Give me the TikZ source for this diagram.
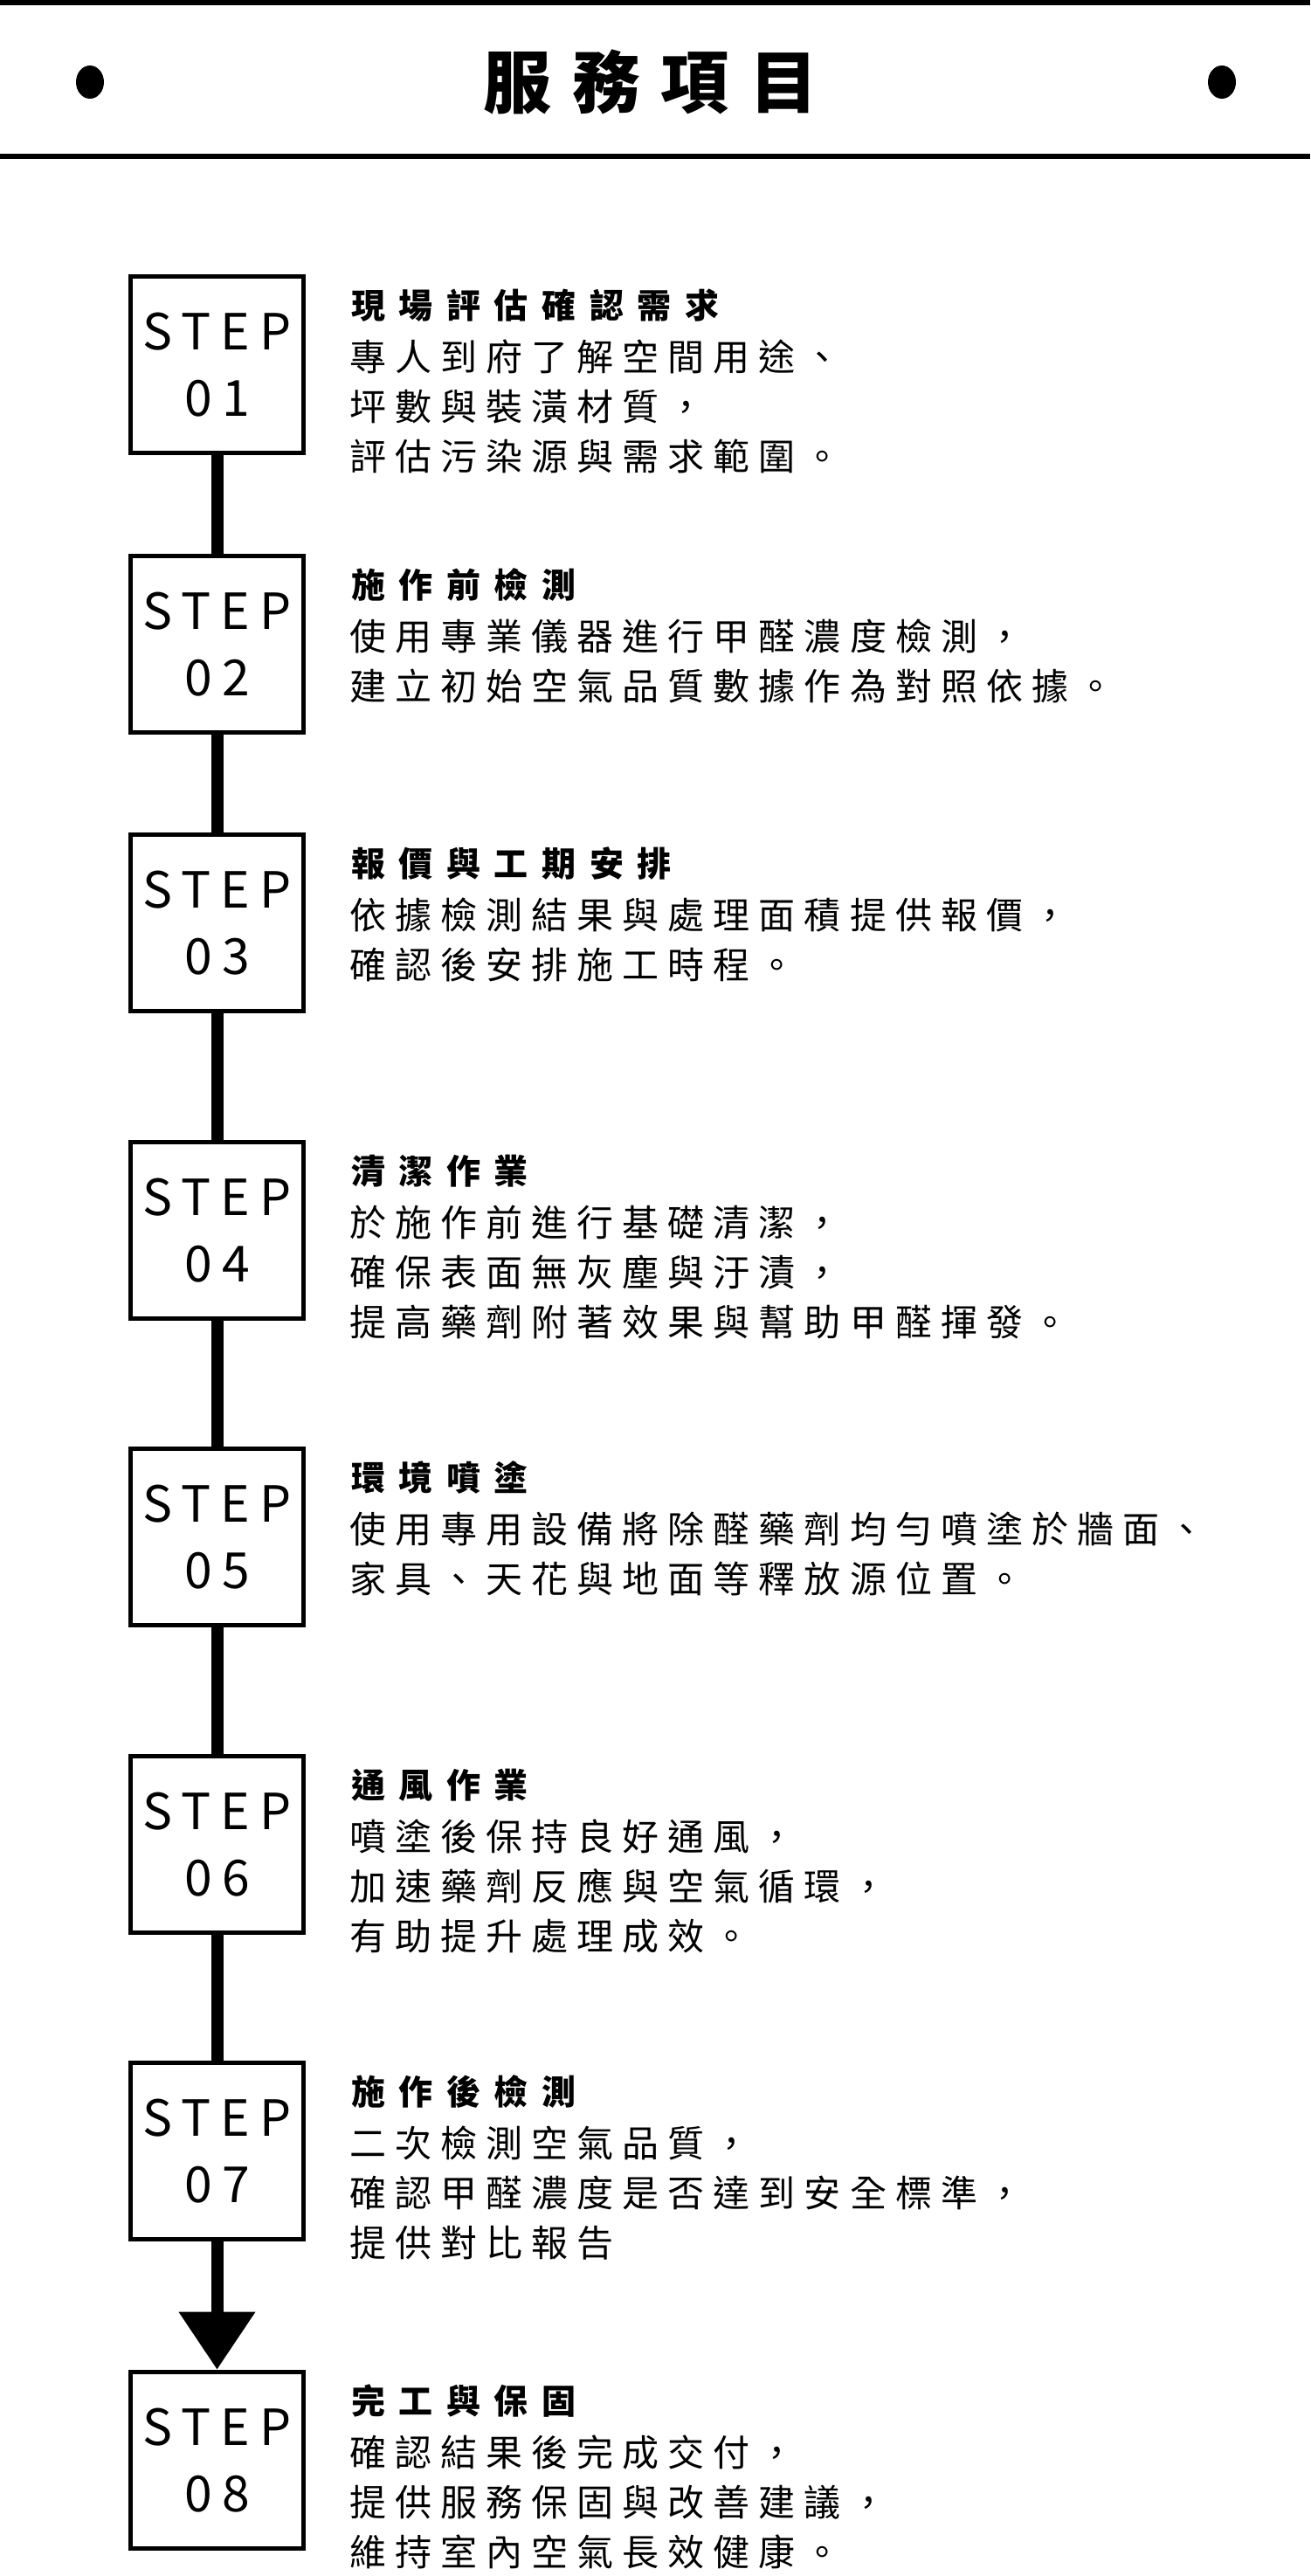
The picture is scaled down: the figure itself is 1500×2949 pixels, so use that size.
\documentclass[tikz,border=0pt]{standalone}
\usepackage{fontspec}
\setmainfont{Noto Sans CJK TC}
\usetikzlibrary{arrows.meta}
\tikzset{
 box/.style={draw,line width=5.6pt,fill=white,minimum width=198pt,minimum height=202pt,inner sep=0pt,align=center,
   font=\fontsize{57}{76}\selectfont\addfontfeatures{LetterSpace=20}},
 ttl/.style={anchor=base west,inner sep=0pt,font=\bfseries\fontsize{39}{40}\selectfont\addfontfeatures{LetterSpace=40}},
 bdy/.style={anchor=base west,inner sep=0pt,font=\fontsize{42}{45}\selectfont\addfontfeatures{LetterSpace=24}},
 conn/.style={line width=14pt},
}
\begin{document}
\begin{tikzpicture}[x=1pt,y=-1pt]
\useasboundingbox (0,0) rectangle (1500,2949);
\fill[white] (0,0) rectangle (1500,2949);
\fill (0,0) rectangle (1500,6);
\fill (0,176) rectangle (1500,182);
\fill (103,94) ellipse [x radius=16,y radius=19];
\fill (1399,94) ellipse [x radius=16,y radius=19];
\node[inner sep=0pt,font=\bfseries\fontsize{78}{80}\selectfont\addfontfeatures{LetterSpace=30}] (title) at (745,94) {服務項目};
% steps
\foreach \i/\t in {1/314,2/634,3/953,4/1305,5/1656,6/2008,7/2359,8/2713}{
 \node[box] (s\i) at (248.5,\t+103.5) {STEP\\0\i};
}
\foreach \a/\b in {1/2,2/3,3/4,4/5,5/6,6/7}{
 \draw[conn] (s\a.south) -- (s\b.north);
}
\draw[conn,-{Triangle[width=84pt,length=66pt]}] (s7.south) -- (s8.north);
\newcommand\stepx[5]{%
 \node[ttl] (t#1) at (402,#2+50) {#3};
 \node[bdy] (b#1a) at (400,#2+110) {#4};
 #5}
\stepx{1}{314}{現場評估確認需求}{專人到府了解空間用途、}{\node[bdy] (b1b) at (400,314+167) {坪數與裝潢材質，};\node[bdy] (b1c) at (400,314+224) {評估污染源與需求範圍。};}
\stepx{2}{634}{施作前檢測}{使用專業儀器進行甲醛濃度檢測，}{\node[bdy] (b2b) at (400,634+167) {建立初始空氣品質數據作為對照依據。};}
\stepx{3}{953}{報價與工期安排}{依據檢測結果與處理面積提供報價，}{\node[bdy] (b3b) at (400,953+167) {確認後安排施工時程。};}
\stepx{4}{1305}{清潔作業}{於施作前進行基礎清潔，}{\node[bdy] (b4b) at (400,1305+167) {確保表面無灰塵與汙漬，};\node[bdy] (b4c) at (400,1305+224) {提高藥劑附著效果與幫助甲醛揮發。};}
\stepx{5}{1656}{環境噴塗}{使用專用設備將除醛藥劑均勻噴塗於牆面、}{\node[bdy] (b5b) at (400,1656+167) {家具、天花與地面等釋放源位置。};}
\stepx{6}{2008}{通風作業}{噴塗後保持良好通風，}{\node[bdy] (b6b) at (400,2008+167) {加速藥劑反應與空氣循環，};\node[bdy] (b6c) at (400,2008+224) {有助提升處理成效。};}
\stepx{7}{2359}{施作後檢測}{二次檢測空氣品質，}{\node[bdy] (b7b) at (400,2359+167) {確認甲醛濃度是否達到安全標準，};\node[bdy] (b7c) at (400,2359+224) {提供對比報告};}
\stepx{8}{2713}{完工與保固}{確認結果後完成交付，}{\node[bdy] (b8b) at (400,2713+167) {提供服務保固與改善建議，};\node[bdy] (b8c) at (400,2713+224) {維持室內空氣長效健康。};}
\end{tikzpicture}
\end{document}
